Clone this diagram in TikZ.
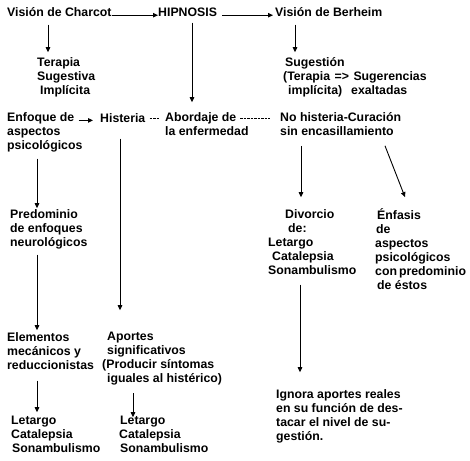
\documentclass[tikz,border=0pt]{standalone}
\usepackage{fontspec}
\setmainfont{Liberation Sans}
\usepackage{tikz}
\usetikzlibrary{
    arrows.meta,
    calc
}

\newcommand{\mapfont}{\fontsize{12.3}{14}\selectfont\bfseries}

\begin{document}
\begin{tikzpicture}[x=1pt,y=1pt,
    txt/.style={anchor=north west,inner sep=0,align=left,font=\mapfont,
        execute at begin node=\strut,execute at end node=\strut},
    arr/.style={-{Triangle[length=5pt,width=4.5pt]},line width=0.9pt},
    dsh/.style={line width=1pt,dash pattern=on 2.5pt off 1pt}
]

\useasboundingbox (0,0) rectangle (470,-460);

% Top row
\node[txt] (charcot) at (7,-6.2) {Visión de Charcot};
\node[txt] (hipnosis) at (158,-6.2) {HIPNOSIS};
\node[txt] (berheim) at (275,-6.2) {Visión de Berheim};

% Second row
\node[txt] (terapia) at (37,-57.2) {Terapia\\Sugestiva\\\hspace*{3pt}Implícita};
\node[txt] (sugestion) at (283,-57.2) {\hspace*{2pt}Sugestión\\(Terapia\hspace{4.5pt}=>\hspace{4.5pt}Sugerencias\\\hspace*{5pt}implícita)\hspace{9pt}exaltadas};

% Middle row
\node[txt] (enfoque) at (7,-112.2) {Enfoque de\\aspectos\\psicológicos};
\node[txt] (histeria) at (100,-112.2) {Histeria};
\node[txt] (abordaje) at (165,-112.2) {Abordaje de\\la enfermedad};
\node[txt] (nohisteria) at (280,-112.2) {No histeria-Curación\\sin encasillamiento};

% Lower blocks
\node[txt] (predominio) at (10,-209.2) {Predominio\\de enfoques\\neurológicos};
\node[txt] (divorcio) at (268,-209.2) {\hspace*{17pt}Divorcio\\\hspace*{20pt}de:\\Letargo\\\hspace*{4pt}Catalepsia\\Sonambulismo};
\node[txt] (enfasis) at (375,-208.1) {\hspace*{2pt}Énfasis\\\hspace*{1pt}de\\aspectos\\psicológicos\\con\hspace{2pt}predominio\\\hspace*{2pt}de éstos};
\node[txt] (elementos) at (7,-332.2) {Elementos\\mecánicos y\\reduccionistas};
\node[txt] (aportes) at (102,-332.2) {\hspace*{5pt}Aportes\\\hspace*{5pt}significativos\\(Producir síntomas\\\hspace*{5pt}iguales al histérico)};
\node[txt] (ignora) at (276,-389.2) {Ignora aportes reales\\en su función de des-\\tacar el nivel de su-\\gestión.};

% Bottom row
\node[txt] (letargoA) at (11,-416.2) {Letargo\\Catalepsia\\\hspace*{1pt}Sonambulismo};
\node[txt] (letargoB) at (119,-416.2) {\hspace*{1pt}Letargo\\Catalepsia\\\hspace*{1pt}Sonambulismo};

% Horizontal links
\draw[arr] ([yshift=1]charcot.base east) -- ([yshift=1]hipnosis.base west);
\draw[arr] ([xshift=5,yshift=1]hipnosis.base east) -- ([xshift=-2,yshift=1]berheim.base west);
\draw[arr] ($(enfoque.east |- histeria.west)+(-4,-1)$) -- ([xshift=-7,yshift=-1]histeria.west);
\draw[dsh] ($(histeria.base -| abordaje.west)+(-15.5,3.8)$) -- ($(histeria.base -| abordaje.west)+(-5.5,3.8)$);
\draw[dsh] ($(histeria.base -| abordaje.west)+(75,3.8)$) -- ($(histeria.base -| nohisteria.west)+(-10,3.8)$);

% Vertical links
\draw[arr] ([xshift=41,yshift=-4]charcot.south west) -- ([xshift=11,yshift=5]terapia.north west);
\draw[arr] ([xshift=34,yshift=-2]hipnosis.south west) -- ([xshift=27,yshift=10]abordaje.north west);
\draw[arr] ([xshift=20,yshift=-4]berheim.south west) -- ([xshift=12,yshift=5]sugestion.north west);
\draw[arr] ([xshift=20,yshift=-12]histeria.south west) -- ([xshift=18,yshift=22]aportes.north west);
\draw[arr] ([xshift=30,yshift=-5]enfoque.south west) -- ([xshift=27,yshift=1]predominio.north west);
\draw[arr] ([xshift=27,yshift=-4]predominio.south west) -- ([xshift=30,yshift=2]elementos.north west);
\draw[arr] ([xshift=30,yshift=-7]elementos.south west) -- ([xshift=26,yshift=4]letargoA.north west);
\draw[arr] ([xshift=31,yshift=-6]aportes.south west) -- ([xshift=14,yshift=-1]letargoB.north west);
\draw[arr] ([xshift=21,yshift=-6]nohisteria.south west) -- ([xshift=33,yshift=12]divorcio.north west);
\draw[arr] ([xshift=105,yshift=-6]nohisteria.south west) -- ([xshift=30,yshift=11]enfasis.north west);
\draw[arr] ([xshift=32,yshift=-6]divorcio.south west) -- ([xshift=24,yshift=17]ignora.north west);

\end{tikzpicture}
\end{document}
